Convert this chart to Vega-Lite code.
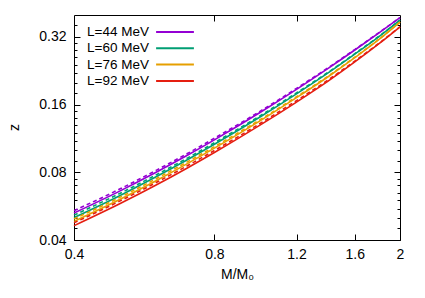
{
 "$schema": "https://vega.github.io/schema/vega-lite/v6.json",
 "width": 326, "height": 225,
 "autosize": "none",
 "padding": {"left": 74, "top": 15, "right": 25, "bottom": 58},
 "config": {
  "view": {"stroke": "#000", "strokeWidth": 1},
  "font": "Liberation Sans",
  "axis": {"domain": false, "grid": false, "tickColor": "#000", "tickWidth": 1, "labelColor": "#000", "titleColor": "#000", "labelFont": "Liberation Sans", "labelFontSize": 14, "titleFont": "Liberation Sans", "titleFontSize": 14, "titleFontWeight": "normal"}
 },
 "datasets": {"d": [
  {"L":"L=44 MeV","s":"solid","x":0.4,"z":0.0527},{"L":"L=44 MeV","s":"solid","x":0.5,"z":0.0658},{"L":"L=44 MeV","s":"solid","x":0.6,"z":0.0800},{"L":"L=44 MeV","s":"solid","x":0.7,"z":0.0952},{"L":"L=44 MeV","s":"solid","x":0.8,"z":0.1115},{"L":"L=44 MeV","s":"solid","x":0.9,"z":0.1288},{"L":"L=44 MeV","s":"solid","x":1.0,"z":0.1471},{"L":"L=44 MeV","s":"solid","x":1.2,"z":0.1869},{"L":"L=44 MeV","s":"solid","x":1.4,"z":0.2310},{"L":"L=44 MeV","s":"solid","x":1.6,"z":0.2795},{"L":"L=44 MeV","s":"solid","x":1.8,"z":0.3323},{"L":"L=44 MeV","s":"solid","x":2.0,"z":0.3895},
  {"L":"L=60 MeV","s":"solid","x":0.4,"z":0.0503},{"L":"L=60 MeV","s":"solid","x":0.5,"z":0.0628},{"L":"L=60 MeV","s":"solid","x":0.6,"z":0.0764},{"L":"L=60 MeV","s":"solid","x":0.7,"z":0.0909},{"L":"L=60 MeV","s":"solid","x":0.8,"z":0.1065},{"L":"L=60 MeV","s":"solid","x":0.9,"z":0.1230},{"L":"L=60 MeV","s":"solid","x":1.0,"z":0.1405},{"L":"L=60 MeV","s":"solid","x":1.2,"z":0.1785},{"L":"L=60 MeV","s":"solid","x":1.4,"z":0.2206},{"L":"L=60 MeV","s":"solid","x":1.6,"z":0.2680},{"L":"L=60 MeV","s":"solid","x":1.8,"z":0.3200},{"L":"L=60 MeV","s":"solid","x":2.0,"z":0.3800},
  {"L":"L=76 MeV","s":"solid","x":0.4,"z":0.0484},{"L":"L=76 MeV","s":"solid","x":0.5,"z":0.0604},{"L":"L=76 MeV","s":"solid","x":0.6,"z":0.0734},{"L":"L=76 MeV","s":"solid","x":0.7,"z":0.0874},{"L":"L=76 MeV","s":"solid","x":0.8,"z":0.1024},{"L":"L=76 MeV","s":"solid","x":0.9,"z":0.1182},{"L":"L=76 MeV","s":"solid","x":1.0,"z":0.1350},{"L":"L=76 MeV","s":"solid","x":1.2,"z":0.1716},{"L":"L=76 MeV","s":"solid","x":1.4,"z":0.2121},{"L":"L=76 MeV","s":"solid","x":1.6,"z":0.2585},{"L":"L=76 MeV","s":"solid","x":1.8,"z":0.3107},{"L":"L=76 MeV","s":"solid","x":2.0,"z":0.3720},
  {"L":"L=92 MeV","s":"solid","x":0.4,"z":0.0463},{"L":"L=92 MeV","s":"solid","x":0.5,"z":0.0578},{"L":"L=92 MeV","s":"solid","x":0.6,"z":0.0702},{"L":"L=92 MeV","s":"solid","x":0.7,"z":0.0836},{"L":"L=92 MeV","s":"solid","x":0.8,"z":0.0979},{"L":"L=92 MeV","s":"solid","x":0.9,"z":0.1131},{"L":"L=92 MeV","s":"solid","x":1.0,"z":0.1292},{"L":"L=92 MeV","s":"solid","x":1.2,"z":0.1641},{"L":"L=92 MeV","s":"solid","x":1.4,"z":0.2028},{"L":"L=92 MeV","s":"solid","x":1.6,"z":0.2474},{"L":"L=92 MeV","s":"solid","x":1.8,"z":0.2974},{"L":"L=92 MeV","s":"solid","x":2.0,"z":0.3545},
  {"L":"L=44 MeV","s":"dash","x":0.4,"z":0.0540},{"L":"L=44 MeV","s":"dash","x":0.5,"z":0.0672},{"L":"L=44 MeV","s":"dash","x":0.6,"z":0.0816},{"L":"L=44 MeV","s":"dash","x":0.7,"z":0.0969},{"L":"L=44 MeV","s":"dash","x":0.8,"z":0.1133},{"L":"L=44 MeV","s":"dash","x":0.9,"z":0.1306},{"L":"L=44 MeV","s":"dash","x":1.0,"z":0.1489},{"L":"L=44 MeV","s":"dash","x":1.2,"z":0.1888},{"L":"L=44 MeV","s":"dash","x":1.4,"z":0.2326},{"L":"L=44 MeV","s":"dash","x":1.6,"z":0.2809},{"L":"L=44 MeV","s":"dash","x":1.8,"z":0.3333},{"L":"L=44 MeV","s":"dash","x":2.0,"z":0.3895},
  {"L":"L=60 MeV","s":"dash","x":0.4,"z":0.0516},{"L":"L=60 MeV","s":"dash","x":0.5,"z":0.0642},{"L":"L=60 MeV","s":"dash","x":0.6,"z":0.0779},{"L":"L=60 MeV","s":"dash","x":0.7,"z":0.0925},{"L":"L=60 MeV","s":"dash","x":0.8,"z":0.1082},{"L":"L=60 MeV","s":"dash","x":0.9,"z":0.1247},{"L":"L=60 MeV","s":"dash","x":1.0,"z":0.1422},{"L":"L=60 MeV","s":"dash","x":1.2,"z":0.1803},{"L":"L=60 MeV","s":"dash","x":1.4,"z":0.2221},{"L":"L=60 MeV","s":"dash","x":1.6,"z":0.2693},{"L":"L=60 MeV","s":"dash","x":1.8,"z":0.3210},{"L":"L=60 MeV","s":"dash","x":2.0,"z":0.3800},
  {"L":"L=76 MeV","s":"dash","x":0.4,"z":0.0496},{"L":"L=76 MeV","s":"dash","x":0.5,"z":0.0617},{"L":"L=76 MeV","s":"dash","x":0.6,"z":0.0749},{"L":"L=76 MeV","s":"dash","x":0.7,"z":0.0890},{"L":"L=76 MeV","s":"dash","x":0.8,"z":0.1040},{"L":"L=76 MeV","s":"dash","x":0.9,"z":0.1199},{"L":"L=76 MeV","s":"dash","x":1.0,"z":0.1366},{"L":"L=76 MeV","s":"dash","x":1.2,"z":0.1733},{"L":"L=76 MeV","s":"dash","x":1.4,"z":0.2136},{"L":"L=76 MeV","s":"dash","x":1.6,"z":0.2598},{"L":"L=76 MeV","s":"dash","x":1.8,"z":0.3116},{"L":"L=76 MeV","s":"dash","x":2.0,"z":0.3720},
  {"L":"L=92 MeV","s":"dash","x":0.4,"z":0.0477},{"L":"L=92 MeV","s":"dash","x":0.5,"z":0.0594},{"L":"L=92 MeV","s":"dash","x":0.6,"z":0.0720},{"L":"L=92 MeV","s":"dash","x":0.7,"z":0.0855},{"L":"L=92 MeV","s":"dash","x":0.8,"z":0.1000},{"L":"L=92 MeV","s":"dash","x":0.9,"z":0.1152},{"L":"L=92 MeV","s":"dash","x":1.0,"z":0.1314},{"L":"L=92 MeV","s":"dash","x":1.2,"z":0.1666},{"L":"L=92 MeV","s":"dash","x":1.4,"z":0.2052},{"L":"L=92 MeV","s":"dash","x":1.6,"z":0.2496},{"L":"L=92 MeV","s":"dash","x":1.8,"z":0.2989},{"L":"L=92 MeV","s":"dash","x":2.0,"z":0.3545}
 ]},
 "data": {"name": "d"},
 "layer": [
  {
   "transform": [{"filter": "datum.s === 'solid'"}],
   "mark": {"type": "line", "strokeWidth": 1.6, "interpolate": "monotone"},
   "encoding": {
    "x": {"field": "x", "type": "quantitative", "scale": {"type": "log", "domain": [0.4, 2], "nice": false},
          "axis": {"orient": "bottom", "values": [0.4, 0.8, 1.2, 1.6, 2], "format": "~g", "tickSize": -6, "labelPadding": 13, "labelFlush": false, "title": "M/M₀", "titleX": 163, "titleY": 34, "titleBaseline": "middle", "titleAlign": "center"}},
    "y": {"field": "z", "type": "quantitative", "scale": {"type": "log", "domain": [0.04, 0.4], "nice": false},
          "axis": {"orient": "left", "values": [0.04, 0.08, 0.16, 0.32], "format": ".2f", "tickSize": -6, "labelPadding": 14, "labelFlush": false, "title": "z", "titleX": -60, "titleY": 112, "titleAngle": -90, "titleBaseline": "middle", "titleAlign": "center"}},
    "color": {"field": "L", "type": "nominal",
              "scale": {"domain": ["L=44 MeV", "L=60 MeV", "L=76 MeV", "L=92 MeV"], "range": ["#9400d3", "#009e73", "#e69f00", "#e51e10"]},
              "legend": {"orient": "none", "legendX": 93, "legendY": 9, "title": null, "symbolType": "M-2.7,0H2.7", "symbolSize": 196, "symbolStrokeWidth": 2, "labelAlign": "right", "labelOffset": -34, "labelFontSize": 13.5, "labelFont": "Liberation Sans", "labelColor": "#000", "rowPadding": 1.3}}
   }
  },
  {
   "transform": [{"filter": "datum.s === 'dash'"}],
   "mark": {"type": "line", "strokeWidth": 1.6, "strokeDash": [4, 3], "interpolate": "monotone"},
   "encoding": {
    "x": {"field": "x", "type": "quantitative", "axis": {"orient": "top", "values": [0.8, 1.2, 1.6], "labels": false, "tickSize": -6, "title": null}},
    "y": {"field": "z", "type": "quantitative", "axis": {"orient": "right", "values": [0.04, 0.08, 0.16, 0.32], "labels": false, "tickSize": -6, "title": null}},
    "color": {"field": "L", "type": "nominal", "legend": null}
   }
  },
  {
   "transform": [{"filter": "datum.s === 'solid'"}],
   "mark": {"type": "line", "opacity": 0},
   "encoding": {
    "x": {"field": "x", "type": "quantitative", "axis": null},
    "y": {"field": "z", "type": "quantitative", "axis": {"orient": "left", "values": [0.045, 0.05, 0.055, 0.06, 0.065, 0.07, 0.075, 0.09, 0.1, 0.11, 0.12, 0.13, 0.14, 0.15, 0.18, 0.2, 0.22, 0.24, 0.26, 0.28, 0.3, 0.36], "labels": false, "tickSize": -3, "title": null}}
   }
  },
  {
   "transform": [{"filter": "datum.s === 'solid'"}],
   "mark": {"type": "line", "opacity": 0},
   "encoding": {
    "x": {"field": "x", "type": "quantitative", "axis": null},
    "y": {"field": "z", "type": "quantitative", "axis": {"orient": "right", "values": [0.045, 0.05, 0.055, 0.06, 0.065, 0.07, 0.075, 0.09, 0.1, 0.11, 0.12, 0.13, 0.14, 0.15, 0.18, 0.2, 0.22, 0.24, 0.26, 0.28, 0.3, 0.36], "labels": false, "tickSize": -3, "title": null}}
   }
  }
 ],
 "resolve": {"axis": {"x": "independent", "y": "independent"}}
}
